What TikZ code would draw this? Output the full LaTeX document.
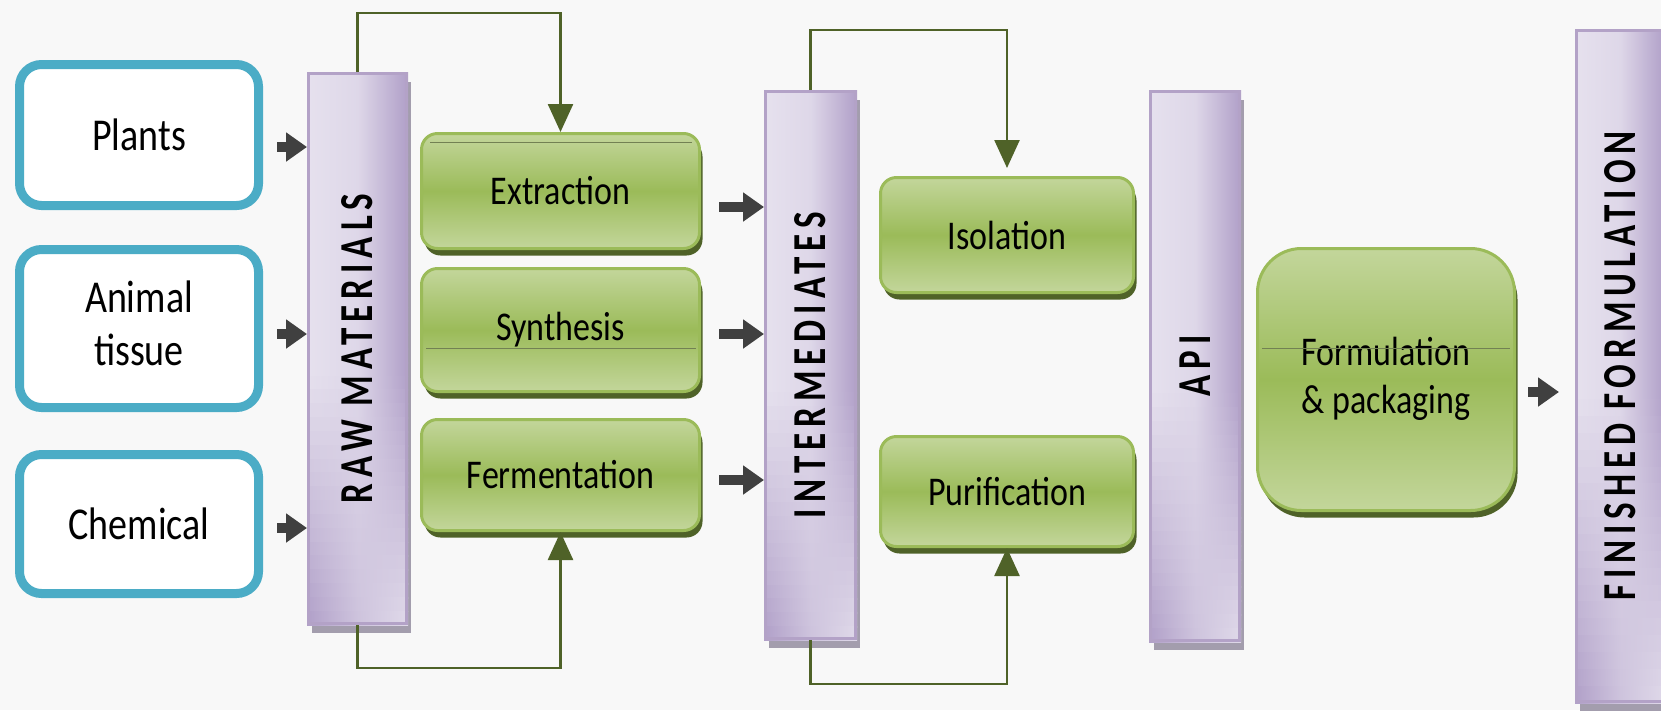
\documentclass[tikz,border=0pt]{standalone}
\usepackage{fontspec}
\setmainfont{Carlito}
\usetikzlibrary{arrows.meta,shadows}
\definecolor{bg}{HTML}{F8F8F8}
\definecolor{bblue}{HTML}{4BACC6}
\definecolor{gL}{HTML}{C3D69B}
\definecolor{gM}{HTML}{9BBB59}
\definecolor{gB}{HTML}{9BBB59}
\definecolor{gS}{HTML}{4F6228}
\definecolor{pL}{HTML}{E6E1EE}
\definecolor{pD}{HTML}{B09FC8}
\definecolor{pB}{HTML}{B3A2C7}
\definecolor{pS}{HTML}{A39DAD}
\definecolor{ar}{HTML}{404040}
\newcommand\stx[1]{\scalebox{1}[1.2]{#1}}
\newcommand\vtx[1]{\rotatebox{90}{\scalebox{1}[1.35]{\bfseries\addfontfeature{LetterSpace=17}#1}}}
\newcommand\pbar[6]{%
  \fill[pS] ({#2+5},{#3+10}) rectangle ({#4+3},{#5+8});
  \pgfmathsetmacro\pstep{(#5-#3)/40}%
  \foreach \i in {0,...,39}{%
    \pgfmathsetmacro\pya{#3+\pstep*\i}%
    \pgfmathsetmacro\pyb{min(#5,#3+\pstep*(\i+1)+0.8)}%
    \pgfmathsetmacro\pta{min(1,max(0,1-((\i+0.5)/40-0.55)/0.45))}%
    \pgfmathtruncatemacro\pbL{100*\pta}%
    \pgfmathtruncatemacro\pbM{85*\pta+55*(1-\pta)}%
    \pgfmathtruncatemacro\pbR{90*(1-\pta)}%
    \shade[left color=pL!\pbL!pD, right color=pL!\pbR!pD, middle color=pL!\pbM!pD] (#2,\pya) rectangle (#4,\pyb);
  }%
  \node[barbox, minimum width={(#4-#2-3)*1pt}, minimum height={(#5-#3-3)*1pt}] (#1) at ({(#2+#4)/2},{(#3+#5)/2}) {\vtx{#6}};
}
\tikzset{
  barbox/.style={draw=pB, line width=3pt, inner sep=0pt, font=\fontsize{35}{40}\selectfont},
  gbox/.style={draw=gB, line width=3pt, rounded corners=16pt, top color=gL, bottom color=gL, middle color=gM,
    inner sep=0pt, font=\fontsize{34}{40}\selectfont,
    general shadow={fill=gS, shadow xshift=3pt, shadow yshift=-7pt}},
  bbox/.style={draw=bblue, line width=9pt, fill=white, rounded corners=22pt, inner sep=0pt,
    font=\fontsize{38}{44}\selectfont},
  barr/.style={draw=ar, line width=10pt, -{Triangle[length=21pt,width=28pt]}},
  gline/.style={draw=gS, line width=2.5pt, -{Triangle[length=28pt,width=25pt]}},
  artline/.style={draw=gS!80, line width=1pt}
}
\begin{document}
\begin{tikzpicture}[x=1pt,y=-1pt]
\useasboundingbox (0,0) rectangle (1661,710);
\fill[bg] (0,0) rectangle (1661,710);

% source boxes
\node[bbox, minimum width=239pt, minimum height=141pt] (plants) at (139,135) {\stx{Plants}};
\node[bbox, minimum width=239pt, minimum height=158pt] (animal) at (139,328.5) {\stx{\begin{tabular}{@{}c@{}}Animal\\tissue\end{tabular}}};
\node[bbox, minimum width=239pt, minimum height=139pt] (chem) at (139,524) {\stx{Chemical}};

% bars
\pbar{raw}{307}{72}{408}{625}{RAW MATERIALS}
\pbar{inter}{764}{90}{857}{640}{INTERMEDIATES}
\pbar{api}{1149}{90}{1241}{642}{API}
\pbar{fin}{1575}{29}{1665}{703}{FINISHED FORMULATION}

% process boxes
\node[gbox, minimum width=278pt, minimum height=115pt] (extr) at (560.5,191) {\stx{Extraction}};
\node[gbox, minimum width=278pt, minimum height=123pt] (synth) at (560.5,330) {\stx{Synthesis}};
\node[gbox, minimum width=278pt, minimum height=111pt] (ferm) at (560.5,475) {\stx{Fermentation}};
\node[gbox, minimum width=253pt, minimum height=115pt] (iso) at (1007,235) {\stx{Isolation}};
\node[gbox, minimum width=253pt, minimum height=110pt] (pur) at (1007,491.5) {\stx{Purification}};
\node[gbox, rounded corners=44pt, minimum width=257pt, minimum height=262pt, font=\fontsize{34}{40}\selectfont] (form) at (1386,379.5) {\stx{\begin{tabular}{@{}c@{}}Formulation\\\& packaging\end{tabular}}};

% thin artefact lines inside boxes
\draw[artline] (430,142) -- (692,142);
\draw[artline] (426,348) -- (696,348);
\draw[artline] (1262,348) -- (1510,348);

% block arrows
\coordinate (a1) at ([yshift=-12pt]plants.east);
\coordinate (a2) at ([yshift=-5.5pt]animal.east);
\coordinate (a3) at ([yshift=-4pt]chem.east);
\draw[barr, shorten <=14pt] (a1) -- (a1 -| raw.west);
\draw[barr, shorten <=14pt] (a2) -- (a2 -| raw.west);
\draw[barr, shorten <=14pt] (a3) -- (a3 -| raw.west);
\coordinate (b1) at ([yshift=-16pt]extr.east);
\coordinate (b2) at ([yshift=-4pt]synth.east);
\coordinate (b3) at ([yshift=-5pt]ferm.east);
\draw[barr, shorten <=18pt] (b1) -- (b1 -| inter.west);
\draw[barr, shorten <=18pt] (b2) -- (b2 -| inter.west);
\draw[barr, shorten <=18pt] (b3) -- (b3 -| inter.west);
\coordinate (c1) at ([yshift=-12.5pt]form.east);
\draw[barr, shorten <=12pt, shorten >=16pt] (c1) -- (c1 -| fin.west);

% green connectors
\draw[gline] (raw.north) -- ++(0,-59) -| (extr.north);
\draw[gline] (raw.south) -- ++(0,43) -| (ferm.south);
\draw[gline, shorten >=8pt] (inter.north) -- ++(0,-60) -| (iso.north);
\draw[gline] (inter.south) -- ++(0,44) -| (pur.south);
\end{tikzpicture}
\end{document}
